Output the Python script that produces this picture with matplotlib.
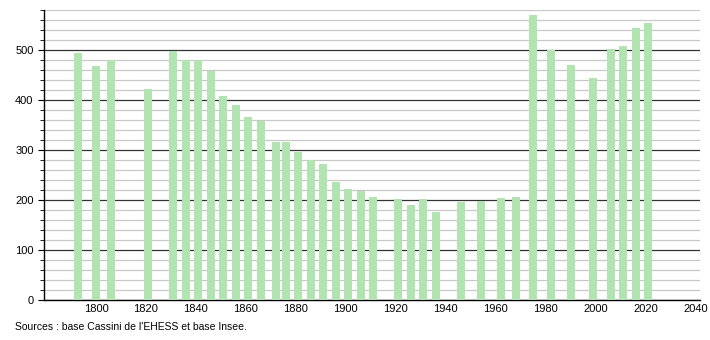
import matplotlib
matplotlib.use("Agg")
import matplotlib.pyplot as plt
from matplotlib.ticker import MultipleLocator

plt.rcParams['font.family'] = ['Liberation Sans', 'DejaVu Sans']

years = [1793, 1800, 1806, 1821, 1831, 1836, 1841, 1846, 1851, 1856,
         1861, 1866, 1872, 1876, 1881, 1886, 1891, 1896, 1901, 1906,
         1911, 1921, 1926, 1931, 1936, 1946, 1954, 1962, 1968, 1975,
         1982, 1990, 1999, 2006, 2011, 2016, 2021]
population = [493, 468, 479, 422, 498, 479, 479, 459, 408, 390,
              366, 359, 316, 316, 296, 280, 272, 236, 222, 219,
              206, 202, 190, 203, 176, 196, 199, 204, 206, 570,
              500, 470, 444, 502, 508, 544, 554]
source = "Sources : base Cassini de l'EHESS et base Insee."

fig = plt.figure(figsize=(7.1, 3.4), dpi=100)
ax = fig.add_axes([0.062, 0.1176, 0.924, 0.853])

ax.bar(years, population, width=3.2, color='#b2e4b2', zorder=3)

ax.set_xlim(1779.2, 2041.8)
ax.set_ylim(0, 580)
ax.set_xticks(range(1800, 2041, 20))
ax.yaxis.set_major_locator(MultipleLocator(100))
ax.yaxis.set_minor_locator(MultipleLocator(20))
ax.grid(axis='y', which='minor', color='#c8c8c8', linewidth=0.9, zorder=1)
ax.grid(axis='y', which='major', color='#333333', linewidth=0.9, zorder=2)

for s in ['top', 'right']:
    ax.spines[s].set_visible(False)
ax.spines['left'].set_linewidth(1.0)
ax.spines['bottom'].set_linewidth(1.0)
ax.tick_params(axis='x', length=0, labelsize=8, pad=3)
ax.tick_params(axis='y', which='major', length=4, labelsize=8)
ax.tick_params(axis='y', which='minor', length=3)

fig.text(0.021, 0.038, source, fontsize=7.5, ha='left', va='center')

fig.savefig("out.png", dpi=100)
